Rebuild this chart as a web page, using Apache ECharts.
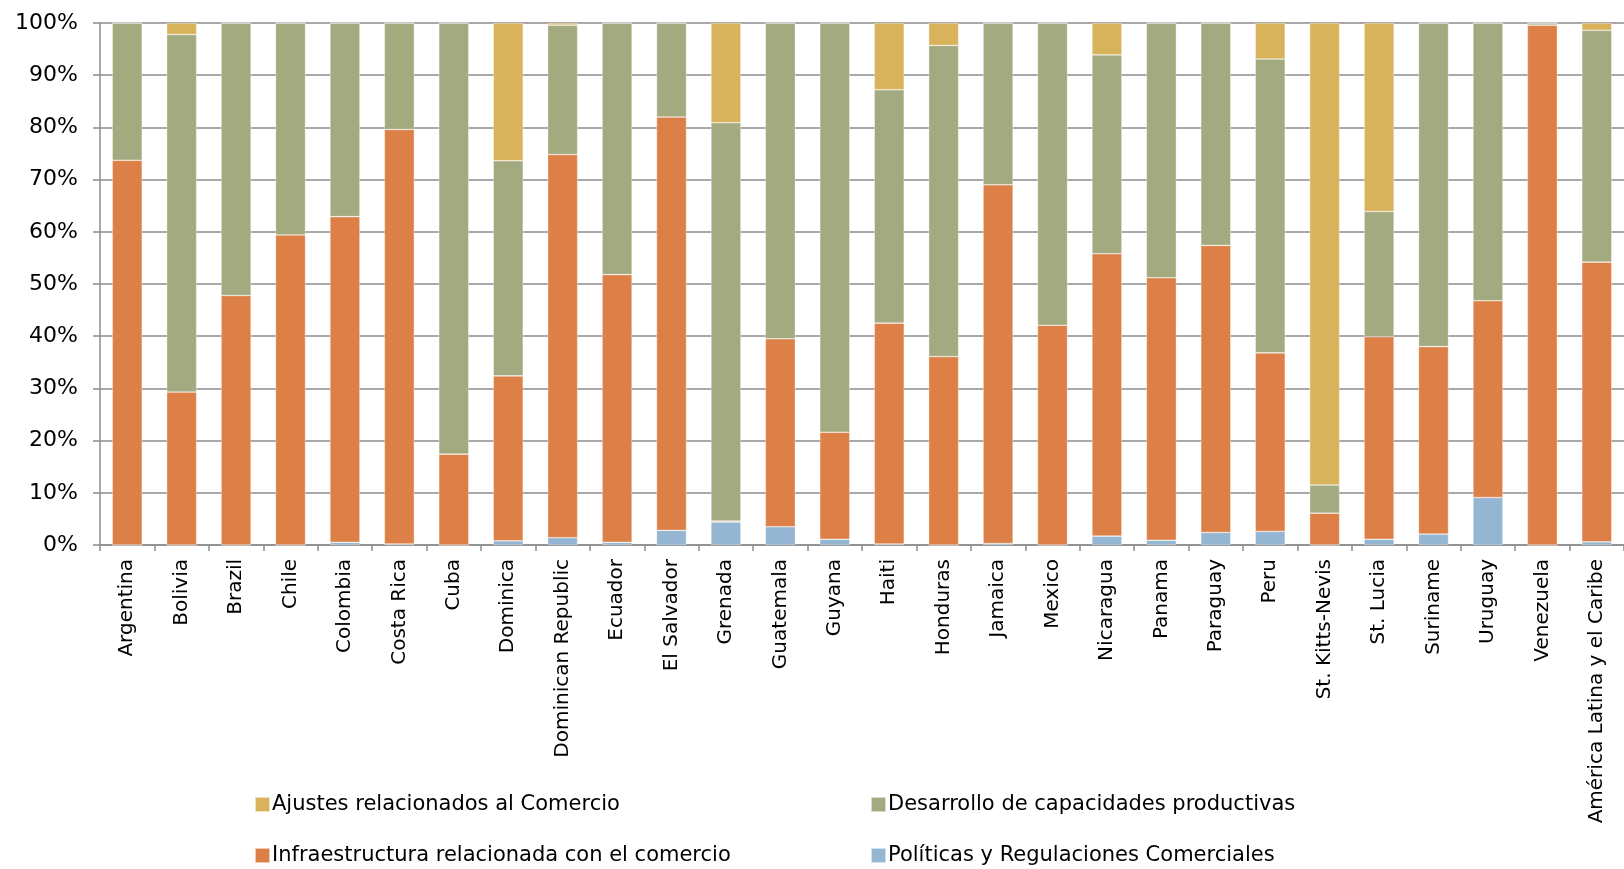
<!DOCTYPE html>
<html><head><meta charset="utf-8">
<script src="https://cdn.jsdelivr.net/npm/echarts@6/dist/echarts.min.js"></script>
<style>html,body{margin:0;padding:0;background:#fff}#c{width:1624px;height:869px}</style>
</head><body><div id="c"></div>
<script>
const categories = ["Argentina","Bolivia","Brazil","Chile","Colombia","Costa Rica","Cuba","Dominica","Dominican Republic","Ecuador","El Salvador","Grenada","Guatemala","Guyana","Haiti","Honduras","Jamaica","Mexico","Nicaragua","Panama","Paraguay","Peru","St. Kitts-Nevis","St. Lucia","Suriname","Uruguay","Venezuela","América Latina y el Caribe"];
const politicas = [0,0,0,0,0.5,0.2,0,0.8,1.4,0.5,2.8,4.4,3.5,1.1,0.2,0,0.3,0,1.7,0.9,2.4,2.6,0,1.1,2.1,9.1,0,0.6];
const infraestructura = [73.7,29.3,47.8,59.4,62.4,79.4,17.4,31.6,73.4,51.3,79.2,0.2,36.0,20.5,42.3,36.1,68.7,42.1,54.1,50.3,55.0,34.2,6.1,38.8,35.9,37.7,99.6,53.6];
const desarrollo = [26.3,68.5,52.2,40.6,37.1,20.4,82.6,41.2,24.8,48.2,18.0,76.3,60.5,78.4,44.7,59.6,31.0,57.9,38.1,48.8,42.6,56.3,5.4,24.0,62.0,53.2,0.4,44.4];
const ajustes = [0,2.2,0,0,0,0,0,26.4,0.4,0,0,19.1,0,0,12.8,4.3,0,0,6.1,0,0,6.9,88.5,36.1,0,0,0,1.4];
const yTicks = [0,10,20,30,40,50,60,70,80,90,100];

const names = {
  aj: "Ajustes relacionados al Comercio",
  de: "Desarrollo de capacidades productivas",
  in: "Infraestructura relacionada con el comercio",
  po: "Políticas y Regulaciones Comerciales"
};
const colors = {aj:"#D9B25C", de:"#A4AA7F", in:"#DD8047", po:"#94B6D2"};
const font = "'DejaVu Sans', sans-serif";

function bar(name, data, color){
  return {name, type:"bar", stack:"s", data, barWidth: 30,
    itemStyle:{color, borderColor:"rgba(255,255,255,0.6)", borderWidth:0.6}};
}
function leg(name, left, top){
  return {data:[name], left, top, itemWidth:15, itemHeight:15, icon:"rect",
    textStyle:{fontSize:21, lineHeight:21, color:"#000", fontFamily:font, padding:[0,0,0,-3]}, itemGap:4, padding:0};
}
const chart = echarts.init(document.getElementById("c"));
chart.setOption({
  animation:false,
  grid:{left:100, width:1526, top:23, bottom:324},
  legend:[leg(names.aj,254,794), leg(names.de,870,794), leg(names.in,254,845), leg(names.po,870,845)],
  xAxis:{type:"category", data:categories,
    axisLine:{lineStyle:{color:"#8c8c8c", width:1.5}},
    axisTick:{show:true, length:6, lineStyle:{color:"#8c8c8c", width:1.5}},
    axisLabel:{rotate:90, interval:0, fontSize:20, color:"#000", fontFamily:font, margin:14}},
  yAxis:{type:"value", min:0, max:100, interval:10,
    axisLine:{show:true, lineStyle:{color:"#8c8c8c", width:1.5}},
    axisTick:{show:true, length:7, lineStyle:{color:"#8c8c8c", width:1.5}},
    splitLine:{lineStyle:{color:"#8c8c8c", width:1.5}},
    axisLabel:{formatter: v => yTicks.includes(v) ? v + "%" : "", fontSize:22, color:"#000", fontFamily:font, margin:22}},
  series:[bar(names.po, politicas, colors.po), bar(names.in, infraestructura, colors.in),
          bar(names.de, desarrollo, colors.de), bar(names.aj, ajustes, colors.aj)]
});
</script></body></html>
